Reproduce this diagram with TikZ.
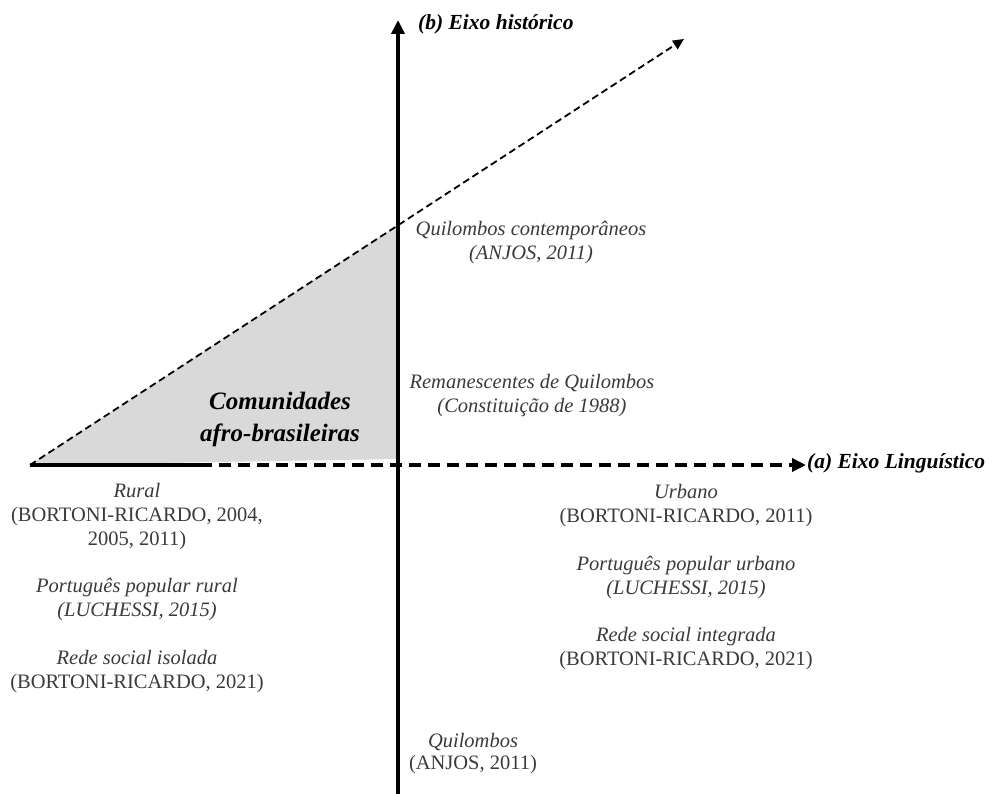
\documentclass[tikz,border=0pt]{standalone}
\usepackage{fontspec}
\setmainfont{Liberation Serif}
\usetikzlibrary{arrows.meta}
\definecolor{txtgray}{HTML}{3A3A3A}
\definecolor{areagray}{HTML}{D9D9D9}
\tikzset{
  axisline/.style={line width=3.6pt, -{Triangle[length=14pt,width=13pt]}},
  thickdash/.style={line width=3.6pt, dash pattern=on 12pt off 7pt},
  thindash/.style={line width=1.8pt, dash pattern=on 7pt off 4pt, -{Triangle[length=11pt,width=10pt]}},
  axislabel/.style={font=\fontsize{21.5}{24}\selectfont\bfseries\itshape, anchor=west, inner sep=0pt},
  note/.style={font=\fontsize{20.5}{24}\selectfont, text=txtgray, align=center, inner sep=0pt},
  areatitle/.style={font=\fontsize{25}{32}\selectfont\bfseries\itshape, align=center, inner sep=0pt}
}
\begin{document}
\begin{tikzpicture}[x=1pt,y=-1pt]
\useasboundingbox (0,0) rectangle (992,794);
% reference points
\coordinate (O) at (398,465);
\coordinate (L) at (30,465);
\coordinate (S) at (200,465);
\coordinate (R) at (806,465);
\coordinate (B) at (398,794);
\coordinate (T) at (398,20);
\coordinate (D) at (684,39);
\coordinate (P) at (398,225);
\coordinate (Q) at (398,459);
% shaded area
\fill[areagray] (L) -- (P) -- (Q) -- cycle;
% diagonal
\draw[thindash] (L) -- (D);
% horizontal axis
\draw[line width=3.6pt] (L) -- (S);
\draw[thickdash] (S) -- ([xshift=-12pt]R);
\draw[axisline] ([xshift=-14pt]R) -- (R);
% vertical axis
\draw[axisline] (B) -- (T);
% axis labels
\node[axislabel] (ylab) at (418,24) {(b) Eixo histórico};
\node[axislabel] (xlab) at (807,463) {(a) Eixo Linguístico};
% area label
\node[areatitle] (area) at (280,419) {Comunidades\\afro-brasileiras};
% upper right notes
\node[note] (qc) at (531,242.5) {\itshape Quilombos contemporâneos\\\itshape (ANJOS, 2011)};
\node[note] (rq) at (532,395.5) {\itshape Remanescentes de Quilombos\\\itshape (Constituição de 1988)};
% lower left notes
\node[note] (rural) at (137,516.5) {\itshape Rural\\(BORTONI-RICARDO, 2004,\\2005, 2011)};
\node[note] (ppr) at (137,600) {\itshape Português popular rural\\\itshape (LUCHESSI, 2015)};
\node[note] (rsi) at (137,672) {\itshape Rede social isolada\\(BORTONI-RICARDO, 2021)};
% lower right notes
\node[note] (urb) at (686,506) {\itshape Urbano\\(BORTONI-RICARDO, 2011)};
\node[note] (ppu) at (686,578) {\itshape Português popular urbano\\\itshape (LUCHESSI, 2015)};
\node[note] (rsn) at (686,649) {\itshape Rede social integrada\\(BORTONI-RICARDO, 2021)};
% bottom note
\node[note] (q) at (473,754) {\itshape Quilombos\\[-2pt](ANJOS, 2011)};
\end{tikzpicture}
\end{document}
